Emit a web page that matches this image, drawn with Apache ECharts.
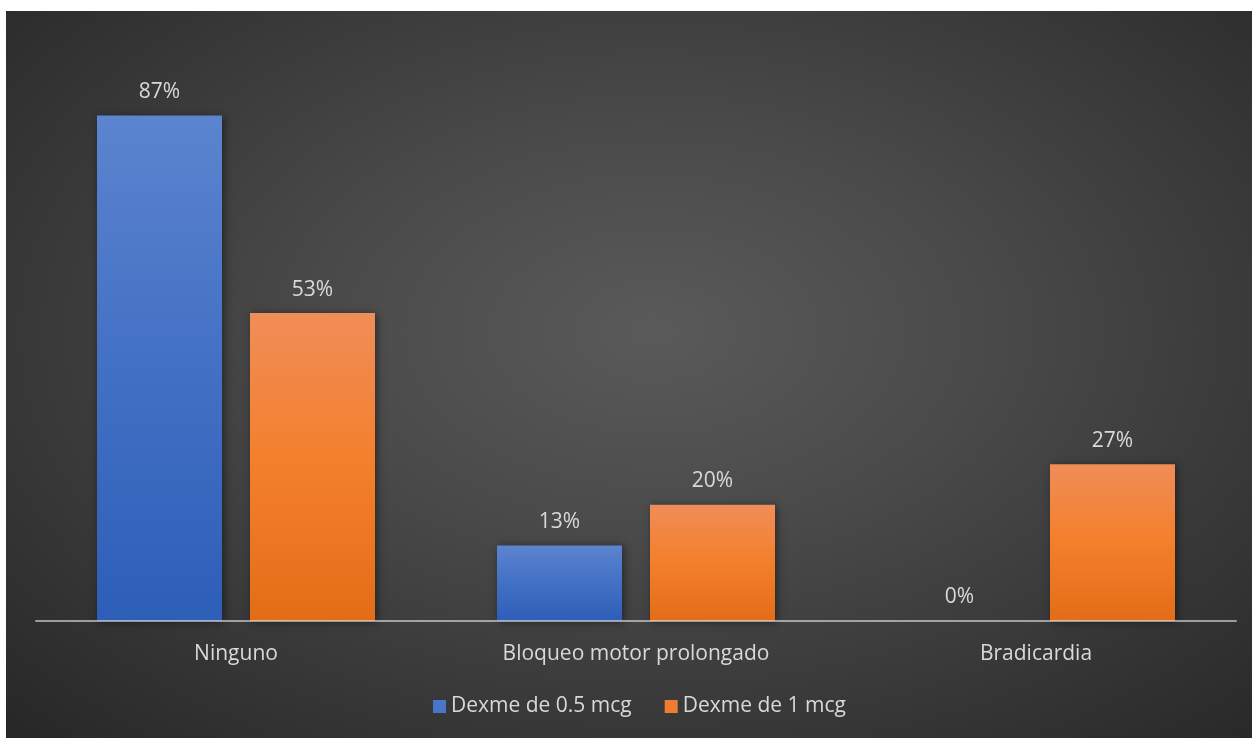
<!DOCTYPE html>
<html>
<head>
<meta charset="utf-8">
<script src="https://cdn.jsdelivr.net/npm/echarts@6/dist/echarts.min.js"></script>
<style>
  html, body { margin: 0; padding: 0; background: #ffffff; }
  #chart {
    position: absolute; left: 6px; top: 11px; width: 1246px; height: 727px;
    background: radial-gradient(ellipse 75% 80% at 52% 44%, #5a5a5a 0%, #4a4a4a 35%, #262626 100%);
  }
</style>
</head>
<body>
<div id="chart"></div>
<script>
// Categories and percentages per dose group
const categories = ['Ninguno', 'Bloqueo motor prolongado', 'Bradicardia'];
const seriesNames = ['Dexme de 0.5 mcg', 'Dexme de 1 mcg'];
const dose05 = [87, 13, 0];
const dose1 = [53, 20, 27];

const textColor = '#d9d9d9';
const fontFamily = '"Open Sans", sans-serif';

function vgrad(top, mid, bottom) {
  return new echarts.graphic.LinearGradient(0, 0, 0, 1, [
    { offset: 0, color: top },
    { offset: 0.5, color: mid },
    { offset: 1, color: bottom }
  ]);
}

const blueFill = vgrad('#5c84cf', '#4270c4', '#2d5eb8');
const orangeFill = vgrad('#f08d58', '#f47f2a', '#e36c17');

const barLabel = {
  show: true,
  position: 'top',
  distance: 13,
  color: textColor,
  fontFamily: fontFamily,
  fontSize: 21,
  formatter: p => p.value + '%'
};

const chart = echarts.init(document.getElementById('chart'));
chart.setOption({
  backgroundColor: 'transparent',
  animation: false,
  grid: { left: 30, right: 16, top: 29, bottom: 117 },
  legend: {
    data: [
      { name: seriesNames[0], itemStyle: { color: '#4a76c9' } },
      { name: seriesNames[1], itemStyle: { color: '#ee7d33' } }
    ],
    left: 422,
    top: 680,
    icon: 'rect',
    itemWidth: 13,
    itemHeight: 13,
    itemGap: 33,
    textStyle: { color: textColor, fontFamily: fontFamily, fontSize: 21, padding: [0, 0, 0, 0] }
  },
  xAxis: {
    type: 'category',
    data: categories,
    z: 5,
    axisLine: { lineStyle: { color: 'rgba(230,230,230,0.6)', width: 2 } },
    axisTick: { show: false },
    axisLabel: { color: textColor, fontFamily: fontFamily, fontSize: 21, margin: 23 }
  },
  yAxis: {
    type: 'value',
    min: 0,
    max: 100,
    show: false,
    splitLine: { show: false }
  },
  series: [
    {
      name: seriesNames[0],
      type: 'bar',
      data: dose05,
      barWidth: 125,
      barGap: '22.4%',
      itemStyle: {
        color: blueFill,
        shadowBlur: 8,
        shadowColor: 'rgba(0,0,0,0.45)',
        shadowOffsetX: 2,
        shadowOffsetY: 1
      },
      label: barLabel
    },
    {
      name: seriesNames[1],
      type: 'bar',
      data: dose1,
      barWidth: 125,
      itemStyle: {
        color: orangeFill,
        shadowBlur: 8,
        shadowColor: 'rgba(0,0,0,0.45)',
        shadowOffsetX: 2,
        shadowOffsetY: 1
      },
      label: barLabel
    }
  ]
});
</script>
</body>
</html>
